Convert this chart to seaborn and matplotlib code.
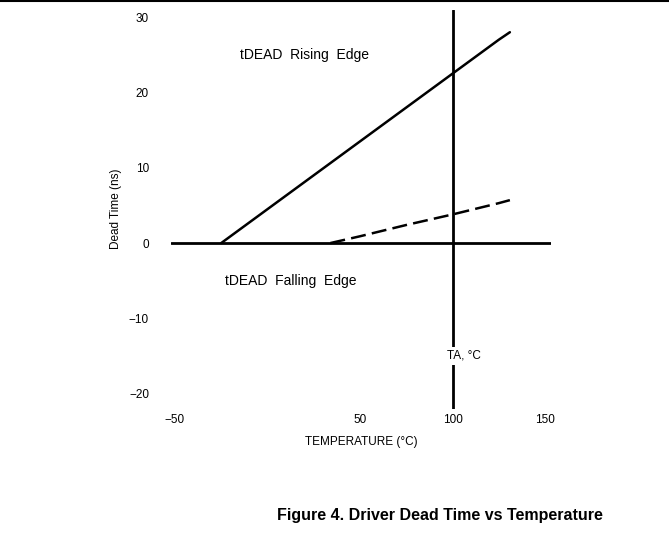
import matplotlib
matplotlib.use('Agg')
import matplotlib.pyplot as plt
import seaborn as sns
import pandas as pd
from matplotlib.lines import Line2D

# values
rise_temp = [-25, 0, 25, 50, 75, 100, 125, 131]
rise_dt = [0, 4.5, 9, 13.5, 18, 22.5, 27, 28]
fall_temp = [34, 50, 75, 100, 125, 131]
fall_dt = [0, 0.9, 2.4, 3.8, 5.3, 5.7]

x_ticks = [-50, 50, 100, 150]
y_ticks = [30, 20, 10, 0, -10, -20]

df = pd.concat([
    pd.DataFrame({'temp': rise_temp, 'dt': rise_dt, 'edge': 'Rising'}),
    pd.DataFrame({'temp': fall_temp, 'dt': fall_dt, 'edge': 'Falling'}),
])

sns.set_style('white')
plt.rcParams['font.family'] = ['Liberation Sans', 'DejaVu Sans']
plt.rcParams['text.color'] = 'black'
plt.rcParams['axes.labelcolor'] = 'black'
plt.rcParams['xtick.color'] = 'black'
plt.rcParams['ytick.color'] = 'black'

fig = plt.figure(figsize=(6.69, 5.44), dpi=100)
ax = fig.add_axes([0.256, 0.2487, 0.567, 0.7336])

ax.axhline(0, color='black', lw=2)
ax.axvline(100, color='black', lw=2)

sns.lineplot(data=df, x='temp', y='dt', style='edge', color='black',
             dashes={'Rising': '', 'Falling': (6, 2.5)}, lw=1.8,
             legend=False, ax=ax)

ax.set_xlim(-52, 153)
ax.set_ylim(-22, 31)
ax.set_xticks(x_ticks)
ax.set_yticks(y_ticks)
ax.tick_params(length=0, labelsize=8.5)
ax.tick_params(axis='x', pad=4)
ax.tick_params(axis='y', pad=16)
for s in ax.spines.values():
    s.set_visible(False)

ax.set_xlabel('TEMPERATURE (°C)', fontsize=8.5, labelpad=7)
ax.set_ylabel('Dead Time (ns)', fontsize=8.5, labelpad=5)

ax.text(-15, 25, 'tDEAD  Rising  Edge', fontsize=10, va='center')
ax.text(-23, -5, 'tDEAD  Falling  Edge', fontsize=10, va='center')
ax.text(97, -15, 'TA, °C', fontsize=8.5, va='center',
        bbox=dict(facecolor='white', edgecolor='none', pad=2))

fig.add_artist(Line2D([0, 1], [0.998, 0.998], color='black', lw=1.5))
fig.text(0.658, 0.053, 'Figure 4. Driver Dead Time vs Temperature',
         ha='center', va='center', fontsize=11.5, fontweight='bold')

fig.savefig('out.png', dpi=100)
